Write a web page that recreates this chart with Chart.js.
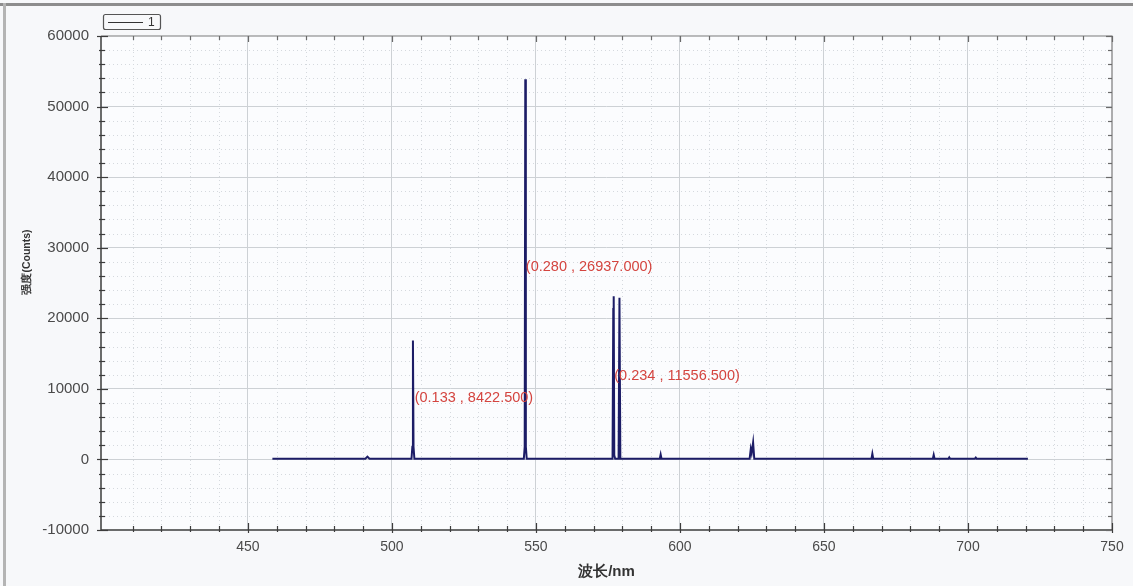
<!DOCTYPE html>
<html><head><meta charset="utf-8">
<script src="https://cdn.jsdelivr.net/npm/chart.js@4/dist/chart.umd.min.js"></script>
<style>html,body{margin:0;padding:0;background:#f7f8fa;overflow:hidden}canvas{display:block}</style>
</head><body>
<canvas id="c" width="1133" height="586"></canvas>
<script>
// ---- data ----
const seriesName = '1';
const wavelengths = [
  458.5, 490.8, 491.5, 492.2,
  506.8, 507.1, 507.3, 507.5, 507.8,
  545.8, 546.1, 546.3, 546.5, 546.8,
  576.6, 576.85, 577.0, 577.2, 577.5,
  578.7, 579.0, 579.3,
  593.0, 593.3, 593.6,
  624.2, 624.6, 624.9, 625.4, 625.8,
  666.5, 666.8, 667.1,
  687.8, 688.1, 688.4,
  693.2, 693.5, 693.8,
  702.4, 702.7, 703.0,
  720.8
];
const intensities = [
  100, 100, 400, 100,
  100, 1800, 16845, 1800, 100,
  100, 1800, 53874, 1800, 100,
  100, 21300, 23113, 600, 100,
  100, 22900, 100,
  100, 700, 100,
  100, 1500, 900, 2400, 100,
  100, 800, 100,
  100, 650, 100,
  100, 300, 100,
  100, 250, 100,
  100
];
const xTickLabels = [450, 500, 550, 600, 650, 700, 750];
const yTickLabels = [-10000, 0, 10000, 20000, 30000, 40000, 50000, 60000];
const annoX = [507.9, 546.5, 577.2];
const annoY = [8422.5, 26937.0, 11556.5];
const annoText = ['(0.133 , 8422.500)', '(0.280 , 26937.000)', '(0.234 , 11556.500)'];
const xTitle = '波长/nm';
const yTitle = '强度(Counts)';

const FONT = '"Liberation Sans", Arial, sans-serif';

const points = wavelengths.map((w, i) => ({x: w, y: intensities[i]}));

const decorPlugin = {
  id: 'decor',
  beforeDraw(chart) {
    const {ctx, chartArea: a} = chart;
    ctx.save();
    ctx.fillStyle = '#f7f8fa';
    ctx.fillRect(0, 0, chart.width, chart.height);
    ctx.fillStyle = '#8d8d8d';
    ctx.fillRect(0, 3, chart.width, 3);
    ctx.fillStyle = '#b4b4b4';
    ctx.fillRect(3, 3, 3, chart.height - 3);
    ctx.fillStyle = '#fbfcfe';
    ctx.fillRect(a.left, a.top, a.right - a.left, a.bottom - a.top);
    ctx.restore();
  },
  beforeDatasetsDraw(chart) {
    const {ctx, chartArea: a, scales: {x, y}} = chart;
    ctx.save();
    ctx.strokeStyle = '#d5d9de';
    ctx.lineWidth = 1;
    ctx.setLineDash([1, 3]);
    x.ticks.forEach(t => {
      if (xTickLabels.includes(t.value) || t.value === x.min) return;
      const px = Math.round(x.getPixelForValue(t.value)) + 0.5;
      ctx.beginPath(); ctx.moveTo(px, a.top); ctx.lineTo(px, a.bottom); ctx.stroke();
    });
    y.ticks.forEach(t => {
      if (yTickLabels.includes(t.value)) return;
      const py = Math.round(y.getPixelForValue(t.value)) + 0.5;
      ctx.beginPath(); ctx.moveTo(a.left, py); ctx.lineTo(a.right, py); ctx.stroke();
    });
    ctx.restore();
  },
  afterDatasetsDraw(chart) {
    const {ctx, chartArea: a, scales: {x, y}} = chart;
    ctx.save();
    ctx.font = '14.5px ' + FONT;
    ctx.fillStyle = '#d4443f';
    ctx.textAlign = 'left';
    ctx.textBaseline = 'middle';
    annoText.forEach((t, i) => {
      ctx.fillText(t, x.getPixelForValue(annoX[i]), y.getPixelForValue(annoY[i]) - 2);
    });
    ctx.setLineDash([]);
    ctx.strokeStyle = '#7a7a7a';
    ctx.lineWidth = 1.2;
    ctx.beginPath();
    ctx.moveTo(a.left, a.top); ctx.lineTo(a.right, a.top); ctx.lineTo(a.right, a.bottom);
    ctx.stroke();
    ctx.strokeStyle = '#3c3c3c';
    ctx.lineWidth = 1.5;
    ctx.beginPath();
    ctx.moveTo(a.left, a.top); ctx.lineTo(a.left, a.bottom); ctx.lineTo(a.right, a.bottom);
    ctx.stroke();
    ctx.lineWidth = 1.2;
    x.ticks.forEach(t => {
      if (t.value === x.min) return;
      const major = xTickLabels.includes(t.value);
      const px = Math.round(x.getPixelForValue(t.value)) + 0.5;
      ctx.strokeStyle = '#3c3c3c';
      ctx.beginPath(); ctx.moveTo(px, a.bottom - (major ? 7 : 4)); ctx.lineTo(px, a.bottom + (major ? 3 : 2)); ctx.stroke();
      ctx.strokeStyle = '#6a6a6a';
      ctx.beginPath(); ctx.moveTo(px, a.top); ctx.lineTo(px, a.top + (major ? 6 : 4)); ctx.stroke();
    });
    y.ticks.forEach(t => {
      const major = yTickLabels.includes(t.value);
      const py = Math.round(y.getPixelForValue(t.value)) + 0.5;
      ctx.strokeStyle = '#3c3c3c';
      ctx.beginPath(); ctx.moveTo(a.left - (major ? 4 : 2), py); ctx.lineTo(a.left + (major ? 7 : 4), py); ctx.stroke();
      ctx.strokeStyle = '#6a6a6a';
      ctx.beginPath(); ctx.moveTo(a.right - (major ? 6 : 4), py); ctx.lineTo(a.right, py); ctx.stroke();
    });
    ctx.restore();
  },
  afterDraw(chart) {
    const {ctx} = chart;
    ctx.save();
    ctx.font = 'bold 10.5px ' + FONT;
    ctx.fillStyle = '#333';
    ctx.textAlign = 'center';
    ctx.textBaseline = 'middle';
    ctx.translate(27, 262);
    ctx.rotate(-Math.PI / 2);
    ctx.fillText(yTitle, 0, 0);
    ctx.restore();
    ctx.save();
    ctx.strokeStyle = '#555';
    ctx.lineWidth = 1.2;
    ctx.beginPath();
    if (ctx.roundRect) ctx.roundRect(103.5, 14.5, 57, 15, 2); else ctx.rect(103.5, 14.5, 57, 15);
    ctx.stroke();
    ctx.strokeStyle = '#333';
    ctx.lineWidth = 1.2;
    ctx.beginPath(); ctx.moveTo(108, 22.5); ctx.lineTo(143, 22.5); ctx.stroke();
    ctx.font = '12px ' + FONT;
    ctx.fillStyle = '#333';
    ctx.textAlign = 'left';
    ctx.textBaseline = 'middle';
    ctx.fillText(seriesName, 148, 22.5);
    ctx.restore();
  }
};

new Chart(document.getElementById('c'), {
  type: 'line',
  data: {
    datasets: [{
      label: seriesName,
      data: points,
      borderColor: '#1c1c66',
      borderWidth: 2,
      pointRadius: 0,
      tension: 0,
      fill: false
    }]
  },
  options: {
    responsive: false,
    animation: false,
    devicePixelRatio: 1,
    layout: {padding: {left: 0, right: 21, top: 36, bottom: 0}},
    plugins: {legend: {display: false}, tooltip: {enabled: false}},
    scales: {
      x: {
        type: 'linear',
        min: 399,
        max: 750,
        afterFit(s) { s.height = 56; },
        ticks: {
          stepSize: 10,
          autoSkip: false,
          maxRotation: 0,
          padding: 9,
          color: '#4a4a4a',
          font: {family: FONT, size: 14},
          callback: v => xTickLabels.includes(v) ? String(v) : ''
        },
        grid: {
          drawTicks: false,
          color: c => (c.tick && xTickLabels.includes(c.tick.value) && c.tick.value !== 750) ? '#cdd1d5' : 'rgba(0,0,0,0)',
          lineWidth: 1
        },
        border: {display: false},
        title: {display: true, text: xTitle, color: '#333', font: {family: FONT, size: 15, weight: 'bold'}, padding: {top: 0, bottom: 5}}
      },
      y: {
        type: 'linear',
        min: -10000,
        max: 60000,
        afterFit(s) { s.width = 101; },
        ticks: {
          stepSize: 2000,
          autoSkip: false,
          padding: 12,
          color: '#4a4a4a',
          font: {family: FONT, size: 15},
          callback: v => yTickLabels.includes(v) ? String(v) : ''
        },
        grid: {
          drawTicks: false,
          color: c => (c.tick && yTickLabels.includes(c.tick.value) && c.tick.value !== 60000 && c.tick.value !== -10000) ? '#cdd1d5' : 'rgba(0,0,0,0)',
          lineWidth: 1
        },
        border: {display: false}
      }
    }
  },
  plugins: [decorPlugin]
});
</script>
</body></html>
